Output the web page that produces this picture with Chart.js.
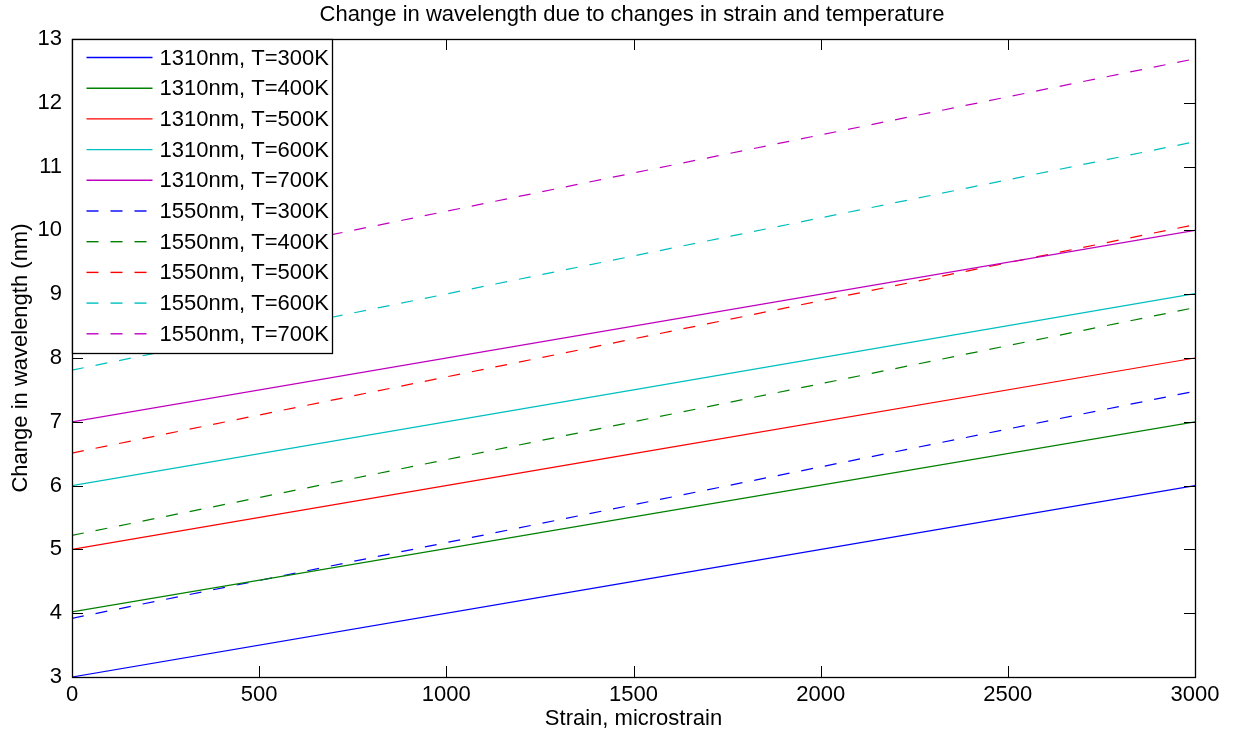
<!DOCTYPE html>
<html>
<head>
<meta charset="utf-8">
<script src="https://cdn.jsdelivr.net/npm/chart.js@4/dist/chart.umd.min.js"></script>
<style>
  body { margin: 0; background: #fff; }
  canvas { display: block; }
</style>
</head>
<body>
<canvas id="chart1" width="1254" height="740"></canvas>
<script>
const strain = [0, 1500, 3000];

/* 1310nm lines */
const wl1310_300 = [3.0, 4.5, 6.0];
const wl1310_400 = [4.02, 5.51, 7.0];
const wl1310_500 = [5.0, 6.5, 8.0];
const wl1310_600 = [6.0, 7.5, 9.01];
const wl1310_700 = [7.0, 8.5, 10.0];

/* 1550nm lines */
const wl1550_300 = [3.92, 5.70, 7.48];
const wl1550_400 = [5.22, 7.0, 8.79];
const wl1550_500 = [6.51, 8.30, 10.09];
const wl1550_600 = [7.81, 9.60, 11.39];
const wl1550_700 = [9.10, 10.90, 12.69];

const labels = [
  '1310nm, T=300K', '1310nm, T=400K', '1310nm, T=500K', '1310nm, T=600K', '1310nm, T=700K',
  '1550nm, T=300K', '1550nm, T=400K', '1550nm, T=500K', '1550nm, T=600K', '1550nm, T=700K'
];
const series = [wl1310_300, wl1310_400, wl1310_500, wl1310_600, wl1310_700,
                wl1550_300, wl1550_400, wl1550_500, wl1550_600, wl1550_700];
const colors = ['#0000ff', '#008000', '#ff0000', '#00bfbf', '#bf00bf'];

const FONT = 'Liberation Sans, Arial, Helvetica, sans-serif';

function makeDataset(i) {
  return {
    label: labels[i],
    data: strain.map((s, k) => ({x: s, y: series[i][k]})),
    borderColor: colors[i % 5],
    backgroundColor: colors[i % 5],
    borderWidth: 1.2,
    borderDash: i < 5 ? [] : [12, 12],
    pointRadius: 0,
    fill: false,
    tension: 0
  };
}

/* box, inward ticks and the legend inside the plot, matlab style */
const matlabFrame = {
  id: 'matlabFrame',
  afterDraw(chart) {
    const ctx = chart.ctx;
    const a = chart.chartArea;
    const xs = chart.scales.x;
    const ys = chart.scales.y;
    ctx.save();
    ctx.strokeStyle = '#000';
    ctx.lineWidth = 1;
    ctx.setLineDash([]);
    ctx.beginPath();
    ys.ticks.forEach(t => {
      const y = Math.round(ys.getPixelForValue(t.value)) + 0.5;
      ctx.moveTo(a.left, y); ctx.lineTo(a.left + 11, y);
      ctx.moveTo(a.right, y); ctx.lineTo(a.right - 11, y);
    });
    xs.ticks.forEach(t => {
      const x = Math.round(xs.getPixelForValue(t.value)) + 0.5;
      ctx.moveTo(x, a.bottom); ctx.lineTo(x, a.bottom - 11);
      ctx.moveTo(x, a.top); ctx.lineTo(x, a.top + 11);
    });
    ctx.stroke();
    ctx.lineWidth = 1.3;
    ctx.strokeRect(Math.round(a.left) + 0.5, Math.round(a.top) + 0.5,
                   Math.round(a.right - a.left), Math.round(a.bottom - a.top));

    // legend
    const lx = Math.round(a.left) + 0.5, ly = Math.round(a.top) + 0.5;
    const lw = 260, lh = 314;
    ctx.fillStyle = '#fff';
    ctx.fillRect(lx, ly, lw, lh);
    ctx.strokeRect(lx, ly, lw, lh);
    ctx.font = '22px ' + FONT;
    ctx.textBaseline = 'middle';
    ctx.textAlign = 'left';
    ctx.lineWidth = 1.4;
    chart.data.datasets.forEach((ds, i) => {
      const y = ly + 18 + i * 30.7;
      ctx.strokeStyle = ds.borderColor;
      ctx.setLineDash(ds.borderDash);
      ctx.beginPath();
      ctx.moveTo(lx + 14, y);
      ctx.lineTo(lx + 80, y);
      ctx.stroke();
      ctx.fillStyle = '#000';
      ctx.fillText(ds.label, lx + 87, y + 1);
    });
    ctx.restore();
  }
};

const chart1 = document.getElementById('chart1');
const myChart1 = new Chart(chart1, {
  type: 'line',
  data: {
    datasets: series.map((s, i) => makeDataset(i))
  },
  options: {
    responsive: false,
    animation: false,
    layout: {
      padding: {left: 10, right: 0, top: 0, bottom: 0}
    },
    plugins: {
      legend: { display: false },
      tooltip: { enabled: false },
      title: {
        display: true,
        text: 'Change in wavelength due to changes in strain and temperature',
        color: '#000',
        font: {family: FONT, size: 22, weight: 'normal', lineHeight: 1.2},
        padding: {top: 2, bottom: 10.6}
      }
    },
    scales: {
      x: {
        type: 'linear',
        min: 0,
        max: 3000,
        ticks: {
          stepSize: 500,
          color: '#000',
          font: {family: FONT, size: 22},
          padding: 5,
          maxRotation: 0,
          callback: (v) => String(v)
        },
        grid: { display: false, drawTicks: false },
        border: { display: false },
        title: {
          display: true,
          text: 'Strain, microstrain',
          color: '#000',
          font: {family: FONT, size: 22, lineHeight: 1.2},
          padding: {top: 0, bottom: 8}
        },
        afterFit: (scale) => { scale.height = 63; }
      },
      y: {
        type: 'linear',
        min: 3,
        max: 13,
        ticks: {
          stepSize: 1,
          color: '#000',
          font: {family: FONT, size: 22},
          padding: 10
        },
        grid: { display: false, drawTicks: false },
        border: { display: false },
        title: {
          display: true,
          text: 'Change in wavelength (nm)',
          color: '#000',
          font: {family: FONT, size: 22, lineHeight: 1.0},
          padding: {top: 0, bottom: 0}
        },
        afterFit: (scale) => { scale.width = 62; }
      },
      y2: {
        type: 'linear',
        position: 'right',
        min: 3,
        max: 13,
        ticks: { display: false },
        grid: { display: false, drawTicks: false },
        border: { display: false },
        afterFit: (scale) => { scale.width = 59; }
      }
    }
  },
  plugins: [matlabFrame]
});
</script>
</body>
</html>
